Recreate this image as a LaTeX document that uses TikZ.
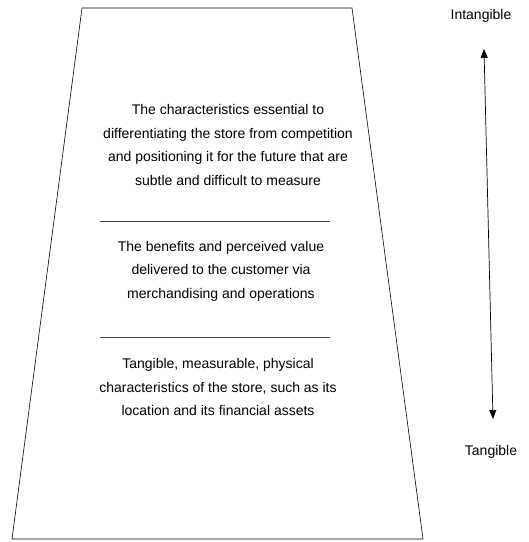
\documentclass[tikz,border=0pt]{standalone}
\usepackage{fontspec}
\setmainfont{Liberation Sans}
\usetikzlibrary{arrows.meta}
\begin{document}
\begin{tikzpicture}[x=1pt,y=-1pt,
  body/.style={align=center,font=\fontsize{14}{23.5}\selectfont,inner sep=0pt},
  sidelabel/.style={font=\fontsize{14}{16}\selectfont,inner sep=0pt},
  sep/.style={draw=black!75,line width=0.6pt},
  scale arrow/.style={line width=0.7pt,-{Triangle[length=9pt,width=7pt]}}]
\useasboundingbox (0,0) rectangle (529,542);
\draw[line width=0.6pt] (82,8) -- (352,8) -- (423,539) -- (12,539) -- cycle;
\node[body] (t1) at (228,145) {The characteristics essential to\\differentiating the store from competition\\and positioning it for the future that are\\subtle and difficult to measure};
\node[body] (t2) at (221,271) {The benefits and perceived value\\delivered to the customer via\\merchandising and operations};
\node[body] (t3) at (218,387) {Tangible, measurable, physical\\characteristics of the store, such as its\\location and its financial assets};
\coordinate (s1a) at (100,221); \coordinate (s1b) at (330,221);
\coordinate (s2a) at (100,337); \coordinate (s2b) at (330,337);
\draw[sep] (s1a) -- (s1b);
\draw[sep] (s2a) -- (s2b);
\node[sidelabel] (int) at (481,16) {Intangible};
\node[sidelabel] (tan) at (491,452) {Tangible};
\coordinate (mid) at (488.5,234);
\coordinate (atop) at (484,49);
\coordinate (abot) at (493,419);
\draw[scale arrow] (mid) -- (atop);
\draw[scale arrow] (mid) -- (abot);
\end{tikzpicture}
\end{document}
